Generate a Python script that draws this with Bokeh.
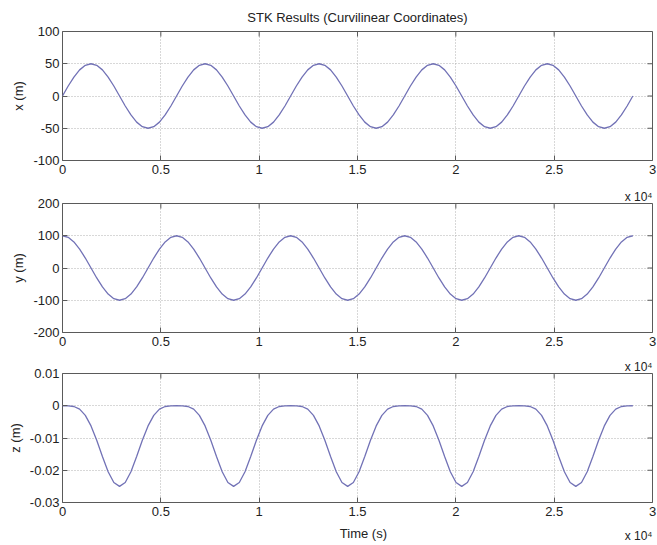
from bokeh.plotting import figure
from bokeh.layouts import column
from bokeh.models import FixedTicker, Range1d, Title
from bokeh.core.properties import value
from bokeh.embed import file_html
from bokeh.resources import INLINE

# ---------------- data ----------------
time_s = [0, 290, 580, 870, 1160, 1450, 1740, 2030, 2320, 2610,
          2900, 3190, 3480, 3770, 4060, 4350, 4640, 4930, 5220, 5510,
          5800, 6090, 6380, 6670, 6960, 7250, 7540, 7830, 8120, 8410,
          8700, 8990, 9280, 9570, 9860, 10150, 10440, 10730, 11020, 11310,
          11600, 11890, 12180, 12470, 12760, 13050, 13340, 13630, 13920, 14210,
          14500, 14790, 15080, 15370, 15660, 15950, 16240, 16530, 16820, 17110,
          17400, 17690, 17980, 18270, 18560, 18850, 19140, 19430, 19720, 20010,
          20300, 20590, 20880, 21170, 21460, 21750, 22040, 22330, 22620, 22910,
          23200, 23490, 23780, 24070, 24360, 24650, 24940, 25230, 25520, 25810,
          26100, 26390, 26680, 26970, 27260, 27550, 27840, 28130, 28420, 28710,
          29000]

x_m = [0, 15.5, 29.4, 40.5, 47.6, 50, 47.6, 40.5, 29.4, 15.5,
       0, -15.5, -29.4, -40.5, -47.6, -50, -47.6, -40.5, -29.4, -15.5,
       0, 15.5, 29.4, 40.5, 47.6, 50, 47.6, 40.5, 29.4, 15.5,
       0, -15.5, -29.4, -40.5, -47.6, -50, -47.6, -40.5, -29.4, -15.5,
       0, 15.5, 29.4, 40.5, 47.6, 50, 47.6, 40.5, 29.4, 15.5,
       0, -15.5, -29.4, -40.5, -47.6, -50, -47.6, -40.5, -29.4, -15.5,
       0, 15.5, 29.4, 40.5, 47.6, 50, 47.6, 40.5, 29.4, 15.5,
       0, -15.5, -29.4, -40.5, -47.6, -50, -47.6, -40.5, -29.4, -15.5,
       0, 15.5, 29.4, 40.5, 47.6, 50, 47.6, 40.5, 29.4, 15.5,
       0, -15.5, -29.4, -40.5, -47.6, -50, -47.6, -40.5, -29.4, -15.5,
       0]

y_m = [100, 95.1, 80.9, 58.8, 30.9, 0, -30.9, -58.8, -80.9, -95.1,
       -100, -95.1, -80.9, -58.8, -30.9, 0, 30.9, 58.8, 80.9, 95.1,
       100, 95.1, 80.9, 58.8, 30.9, 0, -30.9, -58.8, -80.9, -95.1,
       -100, -95.1, -80.9, -58.8, -30.9, 0, 30.9, 58.8, 80.9, 95.1,
       100, 95.1, 80.9, 58.8, 30.9, 0, -30.9, -58.8, -80.9, -95.1,
       -100, -95.1, -80.9, -58.8, -30.9, 0, 30.9, 58.8, 80.9, 95.1,
       100, 95.1, 80.9, 58.8, 30.9, 0, -30.9, -58.8, -80.9, -95.1,
       -100, -95.1, -80.9, -58.8, -30.9, 0, 30.9, 58.8, 80.9, 95.1,
       100, 95.1, 80.9, 58.8, 30.9, 0, -30.9, -58.8, -80.9, -95.1,
       -100, -95.1, -80.9, -58.8, -30.9, 0, 30.9, 58.8, 80.9, 95.1,
       100]

z_m = [0, -0.00002, -0.00023, -0.00106, -0.00298, -0.00625, -0.01071, -0.01576, -0.02045, -0.02379,
       -0.025, -0.02379, -0.02045, -0.01576, -0.01071, -0.00625, -0.00298, -0.00106, -0.00023, -0.00002,
       0, -0.00002, -0.00023, -0.00106, -0.00298, -0.00625, -0.01071, -0.01576, -0.02045, -0.02379,
       -0.025, -0.02379, -0.02045, -0.01576, -0.01071, -0.00625, -0.00298, -0.00106, -0.00023, -0.00002,
       0, -0.00002, -0.00023, -0.00106, -0.00298, -0.00625, -0.01071, -0.01576, -0.02045, -0.02379,
       -0.025, -0.02379, -0.02045, -0.01576, -0.01071, -0.00625, -0.00298, -0.00106, -0.00023, -0.00002,
       0, -0.00002, -0.00023, -0.00106, -0.00298, -0.00625, -0.01071, -0.01576, -0.02045, -0.02379,
       -0.025, -0.02379, -0.02045, -0.01576, -0.01071, -0.00625, -0.00298, -0.00106, -0.00023, -0.00002,
       0, -0.00002, -0.00023, -0.00106, -0.00298, -0.00625, -0.01071, -0.01576, -0.02045, -0.02379,
       -0.025, -0.02379, -0.02045, -0.01576, -0.01071, -0.00625, -0.00298, -0.00106, -0.00023, -0.00002,
       0]

x_ticks = [0, 5000, 10000, 15000, 20000, 25000, 30000]
x_tick_labels = ["0", "0.5", "1", "1.5", "2", "2.5", "3"]

x_yticks = [-100, -50, 0, 50, 100]
x_ytick_labels = ["-100", "-50", "0", "50", "100"]
y_yticks = [-200, -100, 0, 100, 200]
y_ytick_labels = ["-200", "-100", "0", "100", "200"]
z_yticks = [-0.03, -0.02, -0.01, 0, 0.01]
z_ytick_labels = ["-0.03", "-0.02", "-0.01", "0", "0.01"]

title_text = "STK Results (Curvilinear Coordinates)"
x_label = "Time (s)"
exp_text = "x 10\u2074"

# ---------------- styling ----------------
FONT = "Liberation Sans"
TXT = "#222222"
AX = "#5a5a5a"
GRID = "#b0b0b0"
LINE = "#7272b6"
FS = "13px"
EXP_FS = "12px"


def style_axis(ax):
    ax.axis_line_color = None
    ax.major_tick_in = 5
    ax.major_tick_out = 0
    ax.major_tick_line_color = AX
    ax.minor_tick_line_color = None
    ax.major_label_text_font = FONT
    ax.major_label_text_color = TXT
    ax.major_label_text_font_size = FS
    ax.axis_label_text_font = FONT
    ax.axis_label_text_color = TXT
    ax.axis_label_text_font_style = "normal"
    ax.axis_label_text_font_size = FS


def exp_title():
    return Title(text=exp_text, align="right", text_font=FONT,
                 text_font_size=EXP_FS, text_font_style="normal",
                 text_color=TXT, standoff=0)


def make_panel(t, v, yr, yticks, ylabels, ylab, top, bottom,
               title=None, exp_above=False):
    p = figure(frame_width=590, frame_height=129,
               min_border_left=62, min_border_right=5,
               min_border_top=top, min_border_bottom=bottom,
               x_range=Range1d(0, 30000), y_range=Range1d(*yr),
               output_backend="svg", toolbar_location=None,
               background_fill_color="white", border_fill_color="white")
    if title:
        p.title.text = title
        p.title.align = "center"
        p.title.text_font = FONT
        p.title.text_font_size = FS
        p.title.text_font_style = "normal"
        p.title.text_color = TXT
        p.title.standoff = 14
    if exp_above:
        # the "x 10^4" multiplier of the panel above, drawn in this panel's top margin
        p.add_layout(exp_title(), "above")
    p.outline_line_color = AX
    p.outline_line_width = 1

    p.xaxis.ticker = FixedTicker(ticks=x_ticks)
    p.xaxis.major_label_overrides = dict(zip(x_ticks, x_tick_labels))
    p.xaxis.major_label_standoff = 4
    p.yaxis.ticker = FixedTicker(ticks=yticks)
    p.yaxis.major_label_overrides = dict(zip(yticks, ylabels))
    p.yaxis.major_label_standoff = 3
    p.yaxis.axis_label = ylab
    p.yaxis.axis_label_standoff = 4
    style_axis(p.xaxis[0])
    style_axis(p.yaxis[0])

    for g in (p.xgrid[0], p.ygrid[0]):
        g.grid_line_color = GRID
        g.grid_line_dash = "1 2"
        g.grid_line_width = 1
    p.xgrid.ticker = FixedTicker(ticks=x_ticks)
    p.ygrid.ticker = FixedTicker(ticks=yticks)

    # mirrored inward ticks on the top and right edges (MATLAB box style)
    p.ray(x=x_ticks, y=[yr[1]] * len(x_ticks), length=5, length_units="screen",
          angle=-90, angle_units="deg", line_color=AX, line_width=1)
    p.ray(x=[x_ticks[-1]] * len(yticks), y=yticks, length=5, length_units="screen",
          angle=180, angle_units="deg", line_color=AX, line_width=1)

    p.line(t, v, line_color=LINE, line_width=1.3)
    return p


p1 = make_panel(time_s, x_m, (-100, 100), x_yticks, x_ytick_labels, "x (m)",
                30, 20, title=title_text)
p2 = make_panel(time_s, y_m, (-200, 200), y_yticks, y_ytick_labels, "y (m)",
                23, 20, exp_above=True)
p3 = make_panel(time_s, z_m, (-0.03, 0.01), z_yticks, z_ytick_labels, "z (m)",
                21, 20, exp_above=True)

# bottom strip: x-axis label and multiplier of the last panel on one row
p4 = figure(frame_width=595, frame_height=24, min_border_left=62,
            min_border_right=0, min_border_top=0, min_border_bottom=0,
            x_range=Range1d(0, 30000 * 595 / 590), y_range=Range1d(0, 1),
            x_axis_type=None, y_axis_type=None,
            output_backend="svg", toolbar_location=None,
            background_fill_color="white", border_fill_color="white")
p4.outline_line_color = None
p4.text(x=[15300], y=[0.55], text=[x_label], text_align="center",
        text_baseline="middle", text_font=value(FONT), text_font_size=FS,
        text_color=TXT)
p4.text(x=[30000], y=[0.45], text=[exp_text], text_align="right",
        text_baseline="middle", text_font=value(FONT), text_font_size=EXP_FS,
        text_color=TXT)

layout = column(p1, p2, p3, p4, spacing=0)
open("out.html", "w").write(file_html(layout, INLINE))
